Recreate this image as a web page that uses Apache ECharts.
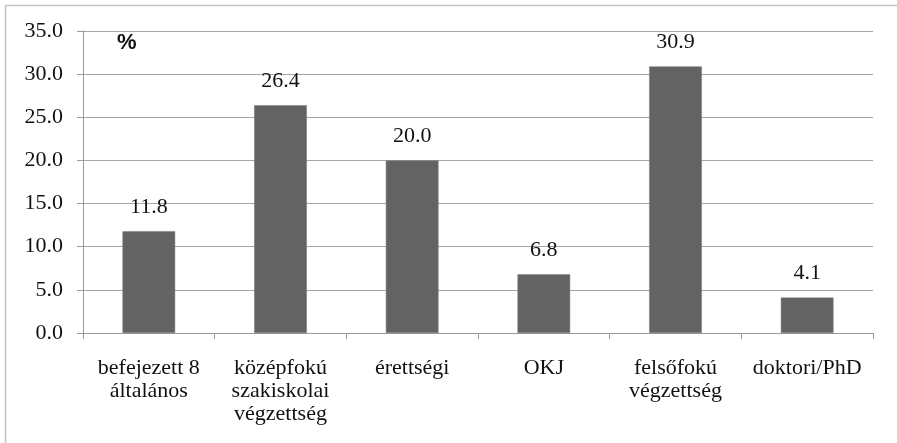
<!DOCTYPE html>
<html><head><meta charset="utf-8">
<script src="https://cdn.jsdelivr.net/npm/echarts@6/dist/echarts.min.js"></script>
<style>html,body{margin:0;padding:0;background:#fff}#c{width:897px;height:443px}</style>
</head><body><div id="c"></div>
<script>
const categories = ['befejezett 8\náltalános', 'középfokú\nszakiskolai\nvégzettség', 'érettségi', 'OKJ', 'felsőfokú\nvégzettség', 'doktori/PhD'];
const values = [11.8, 26.4, 20.0, 6.8, 30.9, 4.1];
const unitLabel = '%';

const chart = echarts.init(document.getElementById('c'));
const serif = '"Liberation Serif", "Times New Roman", serif';
chart.setOption({
  animation: false,
  backgroundColor: '#fff',
  graphic: [
    {type: 'rect', shape: {x: 5.5, y: 5.5, width: 900, height: 450}, style: {fill: 'none', stroke: '#c4c4c4', lineWidth: 1.5}, silent: true},
    {type: 'text', left: 117, top: 32, style: {text: unitLabel, font: 'bold 22px "Liberation Sans", Arial, sans-serif', fill: '#111'}}
  ],
  grid: {left: 83, right: 24, top: 31, bottom: 110, containLabel: false},
  xAxis: {
    type: 'category', data: categories,
    axisLine: {lineStyle: {color: '#9a9a9a', width: 1}},
    axisTick: {show: true, alignWithLabel: false, length: 6, lineStyle: {color: '#9a9a9a'}},
    axisLabel: {interval: 0, color: '#111', fontFamily: serif, fontSize: 22, lineHeight: 23, margin: 24}
  },
  yAxis: {
    type: 'value', min: 0, max: 35, interval: 5,
    axisLine: {show: true, lineStyle: {color: '#9a9a9a'}},
    axisTick: {show: true, length: 6, lineStyle: {color: '#9a9a9a'}},
    splitLine: {lineStyle: {color: '#a6a6a6', width: 1.2}},
    axisLabel: {color: '#111', fontFamily: serif, fontSize: 22, margin: 20, formatter: v => v.toFixed(1)}
  },
  series: [{
    type: 'bar', data: values, barWidth: '40%',
    itemStyle: {color: '#636363', borderColor: '#7a7a7a', borderWidth: 0.5},
    label: {show: true, position: 'top', distance: 13, color: '#111', fontFamily: serif, fontSize: 22, formatter: p => p.value.toFixed(1)}
  }]
});
</script></body></html>
